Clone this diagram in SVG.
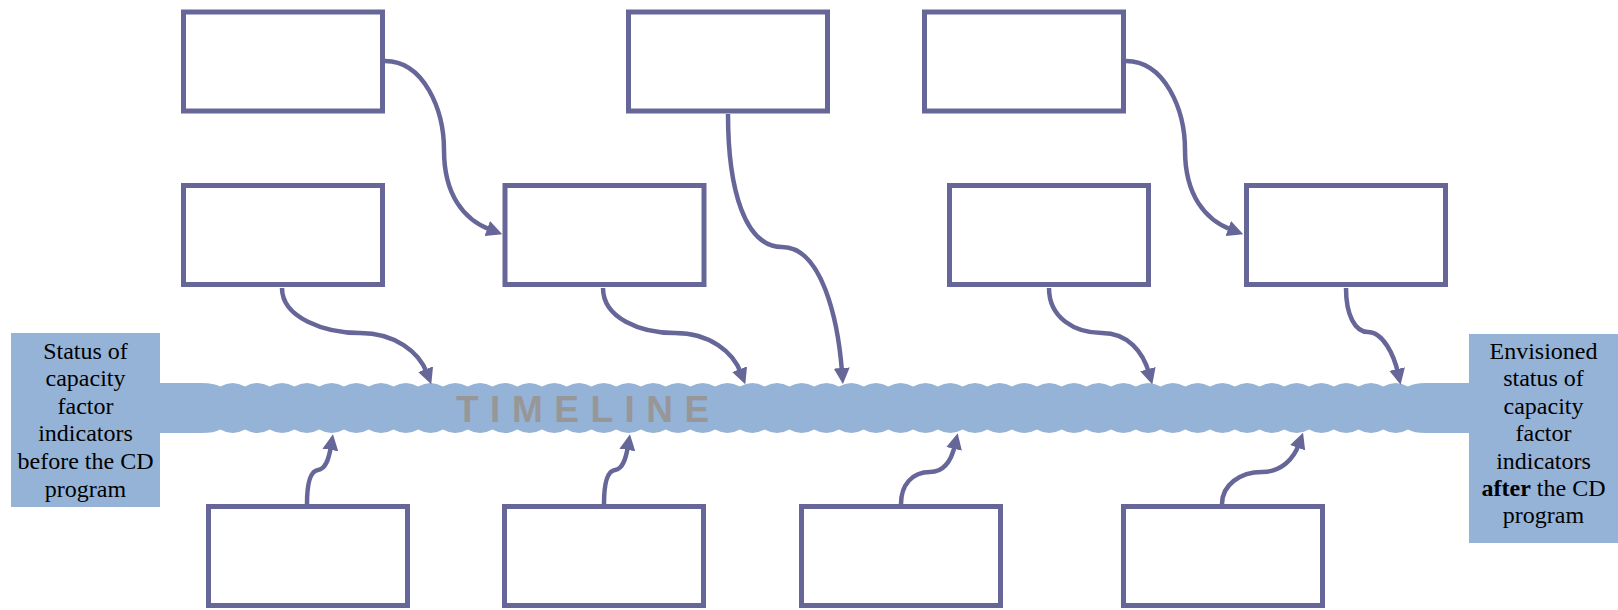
<svg xmlns="http://www.w3.org/2000/svg" width="1618" height="610" viewBox="0 0 1618 610">
<style>
.box{fill:#ffffff;stroke:#666699;stroke-width:5}
.lab{fill:#95b3d7}
.band{fill:#95b3d7}
.con{fill:none;stroke:#666699;stroke-width:4.5}
.t{font-family:"Liberation Serif","Times New Roman",serif;font-size:24px;fill:#000000;text-anchor:middle}
.tl{font-family:"Liberation Sans",Arial,sans-serif;font-size:37px;font-weight:bold;fill:#979797;letter-spacing:11.5px}
</style>
<defs>
<marker id="ah" markerUnits="userSpaceOnUse" viewBox="0 0 16 16" markerWidth="16" markerHeight="16" refX="4" refY="8" orient="auto">
<path d="M0,0 L16,8 L0,16 z" fill="#666699"/>
</marker>
</defs>
<rect width="1618" height="610" fill="#ffffff"/>
<g id="timeline">
<path class="band" d="M160,383 H202 Q214,383 220.26,386.5
q12.3725,-7 24.745,0 q12.3725,-7 24.745,0 q12.3725,-7 24.745,0 q12.3725,-7 24.745,0 q12.3725,-7 24.745,0 q12.3725,-7 24.745,0 q12.3725,-7 24.745,0 q12.3725,-7 24.745,0
q12.3725,-7 24.745,0 q12.3725,-7 24.745,0 q12.3725,-7 24.745,0 q12.3725,-7 24.745,0 q12.3725,-7 24.745,0 q12.3725,-7 24.745,0 q12.3725,-7 24.745,0 q12.3725,-7 24.745,0
q12.3725,-7 24.745,0 q12.3725,-7 24.745,0 q12.3725,-7 24.745,0 q12.3725,-7 24.745,0 q12.3725,-7 24.745,0 q12.3725,-7 24.745,0 q12.3725,-7 24.745,0 q12.3725,-7 24.745,0
q12.3725,-7 24.745,0 q12.3725,-7 24.745,0 q12.3725,-7 24.745,0 q12.3725,-7 24.745,0 q12.3725,-7 24.745,0 q12.3725,-7 24.745,0 q12.3725,-7 24.745,0 q12.3725,-7 24.745,0
q12.3725,-7 24.745,0 q12.3725,-7 24.745,0 q12.3725,-7 24.745,0 q12.3725,-7 24.745,0 q12.3725,-7 24.745,0 q12.3725,-7 24.745,0 q12.3725,-7 24.745,0 q12.3725,-7 24.745,0
q12.3725,-7 24.745,0 q12.3725,-7 24.745,0 q12.3725,-7 24.745,0 q12.3725,-7 24.745,0 q12.3725,-7 24.745,0 q12.3725,-7 24.745,0 q12.3725,-7 24.745,0 q12.3725,-7 24.745,0
Q1414,383 1426,383 H1470 V433 H1426 Q1414,433 1408.02,429.5
q-12.3725,7 -24.745,0 q-12.3725,7 -24.745,0 q-12.3725,7 -24.745,0 q-12.3725,7 -24.745,0 q-12.3725,7 -24.745,0 q-12.3725,7 -24.745,0 q-12.3725,7 -24.745,0 q-12.3725,7 -24.745,0
q-12.3725,7 -24.745,0 q-12.3725,7 -24.745,0 q-12.3725,7 -24.745,0 q-12.3725,7 -24.745,0 q-12.3725,7 -24.745,0 q-12.3725,7 -24.745,0 q-12.3725,7 -24.745,0 q-12.3725,7 -24.745,0
q-12.3725,7 -24.745,0 q-12.3725,7 -24.745,0 q-12.3725,7 -24.745,0 q-12.3725,7 -24.745,0 q-12.3725,7 -24.745,0 q-12.3725,7 -24.745,0 q-12.3725,7 -24.745,0 q-12.3725,7 -24.745,0
q-12.3725,7 -24.745,0 q-12.3725,7 -24.745,0 q-12.3725,7 -24.745,0 q-12.3725,7 -24.745,0 q-12.3725,7 -24.745,0 q-12.3725,7 -24.745,0 q-12.3725,7 -24.745,0 q-12.3725,7 -24.745,0
q-12.3725,7 -24.745,0 q-12.3725,7 -24.745,0 q-12.3725,7 -24.745,0 q-12.3725,7 -24.745,0 q-12.3725,7 -24.745,0 q-12.3725,7 -24.745,0 q-12.3725,7 -24.745,0 q-12.3725,7 -24.745,0
q-12.3725,7 -24.745,0 q-12.3725,7 -24.745,0 q-12.3725,7 -24.745,0 q-12.3725,7 -24.745,0 q-12.3725,7 -24.745,0 q-12.3725,7 -24.745,0 q-12.3725,7 -24.745,0 q-12.3725,7 -24.745,0
Q214,433 202,433 H160 Z"/>
<text class="tl" x="456" y="422">TIMELINE</text>
</g>
<g id="start-label">
<rect class="lab" x="11" y="333" width="149" height="174"/>
<text class="t" x="85.5" y="358.5">Status of</text>
<text class="t" x="85.5" y="386.1">capacity</text>
<text class="t" x="85.5" y="413.7">factor</text>
<text class="t" x="85.5" y="441.3">indicators</text>
<text class="t" x="85.5" y="468.9">before the CD</text>
<text class="t" x="85.5" y="496.5">program</text>
</g>
<g id="end-label">
<rect class="lab" x="1469" y="334" width="149" height="209"/>
<text class="t" x="1543.5" y="359">Envisioned</text>
<text class="t" x="1543.5" y="386.4">status of</text>
<text class="t" x="1543.5" y="413.8">capacity</text>
<text class="t" x="1543.5" y="441.2">factor</text>
<text class="t" x="1543.5" y="468.6">indicators</text>
<text class="t" x="1543.5" y="496"><tspan font-weight="bold">after</tspan> the CD</text>
<text class="t" x="1543.5" y="523.4">program</text>
</g>
<g id="connectors">
<path class="con" marker-end="url(#ah)" d="M385,61 C424,61 444,110 444,150 C444,195 464,220 491,230"/>
<path class="con" marker-end="url(#ah)" d="M1126,61 C1165,61 1185,110 1185,150 C1185,195 1205,220 1232,230"/>
<path class="con" marker-end="url(#ah)" d="M728,114 C728,190 745,247 782,247 C822,247 838,320 842,372"/>
<path class="con" marker-end="url(#ah)" d="M282,288 C282,318 325,333 360,333 C395,333 419,352 427,373"/>
<path class="con" marker-end="url(#ah)" d="M603,288 C603,318 640,333 675,333 C710,333 733,352 741,373"/>
<path class="con" marker-end="url(#ah)" d="M1049,288 C1049,318 1075,333 1102,333 C1128,333 1143,352 1149,373"/>
<path class="con" marker-end="url(#ah)" d="M1346,288 C1346,315 1355,332 1368,332 C1383,332 1394,355 1398,373"/>
<path class="con" marker-end="url(#ah)" d="M307,504 C307,485 310,471 318,470 C326,469 329,458 331,446"/>
<path class="con" marker-end="url(#ah)" d="M604,504 C604,485 607,471 615,470 C623,469 626,458 628,446"/>
<path class="con" marker-end="url(#ah)" d="M901,504 C901,485 912,472 930,472 C945,472 952,458 955,445"/>
<path class="con" marker-end="url(#ah)" d="M1222,504 C1222,485 1240,472 1262,472 C1282,472 1294,458 1299,444"/>
</g>
<g id="box-a"><rect class="box" x="183.5" y="12" width="199" height="99"/></g>
<g id="box-b"><rect class="box" x="628.5" y="12" width="199" height="99"/></g>
<g id="box-c"><rect class="box" x="924.5" y="12" width="199" height="99"/></g>
<g id="box-d"><rect class="box" x="183.5" y="185.5" width="199" height="99"/></g>
<g id="box-e"><rect class="box" x="505" y="185.5" width="199" height="99"/></g>
<g id="box-f"><rect class="box" x="949.5" y="185.5" width="199" height="99"/></g>
<g id="box-g"><rect class="box" x="1246.5" y="185.5" width="199" height="99"/></g>
<g id="box-h"><rect class="box" x="208.5" y="506.5" width="199" height="99"/></g>
<g id="box-i"><rect class="box" x="504.5" y="506.5" width="199" height="99"/></g>
<g id="box-j"><rect class="box" x="801.5" y="506.5" width="199" height="99"/></g>
<g id="box-k"><rect class="box" x="1123.5" y="506.5" width="199" height="99"/></g>
</svg>
